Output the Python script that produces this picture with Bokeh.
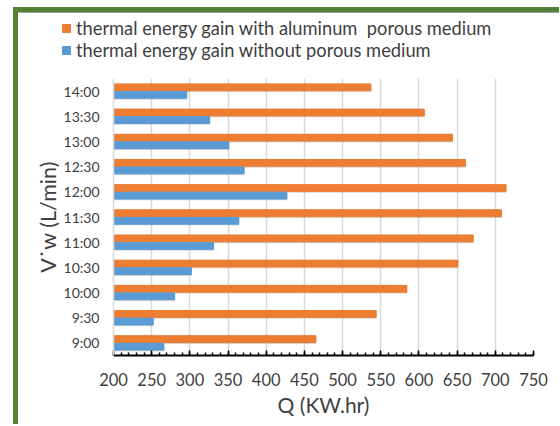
from bokeh.plotting import figure
from bokeh.models import (FactorRange, Range1d, FixedTicker, Legend, LegendItem,
                          ColumnDataSource, Title)
from bokeh.transform import dodge
from bokeh.embed import file_html
from bokeh.resources import INLINE

# ---- data ----
times = ["9:00", "9:30", "10:00", "10:30", "11:00", "11:30",
         "12:00", "12:30", "13:00", "13:30", "14:00"]
q_with_aluminum = [465, 544, 584, 651, 671, 708, 714, 661, 644, 607, 537]
q_without_porous = [266, 252, 280, 302, 331, 364, 427, 371, 351, 326, 296]
x_ticks = [200, 250, 300, 350, 400, 450, 500, 550, 600, 650, 700, 750]
x_minor = list(range(200, 751, 10))
label_with = "thermal energy gain with aluminum  porous medium"
label_without = "thermal energy gain without porous medium"
x_title = "Q (KW.hr)"
y_title = "V\u02d9w (L/min)"

ORANGE = "#ED7D31"
BLUE = "#5B9BD5"
GREEN = "#548235"
FONT = "Lato"
TXT = "#404040"

src = ColumnDataSource(dict(t=times, a=q_with_aluminum, b=q_without_porous))

# ---------- legend strip (separate root, so frames are not aligned) ----------
lf = figure(width=546, height=71, x_range=Range1d(0, 1), y_range=Range1d(0, 1),
            x_axis_type=None, y_axis_type=None,
            output_backend="svg", toolbar_location=None,
            min_border=0)
lf.styles = {"margin-left": "13px", "margin-top": "7px",
             "border-left": f"5px solid {GREEN}", "border-top": f"5px solid {GREEN}"}
lf.outline_line_color = None
lf.grid.visible = False
# proxy glyphs, placed outside the visible range, only used for the legend swatches
pr1 = lf.hbar(y=[5], left=[0], right=[1], height=0.5, color=ORANGE)
pr2 = lf.hbar(y=[5], left=[0], right=[1], height=0.5, color=BLUE)
legend = Legend(items=[LegendItem(label=label_with, renderers=[pr1]),
                       LegendItem(label=label_without, renderers=[pr2])],
                location=(43, 22), orientation="vertical",
                padding=0, margin=0, spacing=-1,
                glyph_width=10, glyph_height=10, label_standoff=5,
                label_height=21,
                label_text_font=FONT, label_text_font_size="18.3px",
                label_text_color=TXT,
                background_fill_alpha=0, border_line_color=None)
lf.add_layout(legend)

# ---------- main chart ----------
p = figure(width=546, height=346,
           y_range=FactorRange(*times), x_range=Range1d(200, 750),
           output_backend="svg", toolbar_location=None,
           min_border_left=95, min_border_right=31,
           min_border_top=0, min_border_bottom=69)
p.styles = {"margin-left": "13px", "border-left": f"5px solid {GREEN}"}
p.outline_line_color = None

# soft shadows
p.hbar(y=dodge("t", 0.13, range=p.y_range), left=202, right="a", height=0.30,
       source=src, color="black", alpha=0.12)
p.hbar(y=dodge("t", -0.17, range=p.y_range), left=202, right="b", height=0.30,
       source=src, color="black", alpha=0.12)

p.hbar(y=dodge("t", 0.15, range=p.y_range), left=200, right="a", height=0.27,
       source=src, color=ORANGE)
p.hbar(y=dodge("t", -0.15, range=p.y_range), left=200, right="b", height=0.27,
       source=src, color=BLUE)

p.xaxis.ticker = FixedTicker(ticks=x_ticks, minor_ticks=x_minor)
p.xaxis.axis_line_color = "black"
p.xaxis.axis_line_width = 2
p.xaxis.major_tick_in = 5
p.xaxis.major_tick_out = 0
p.xaxis.minor_tick_in = 3
p.xaxis.minor_tick_out = 0
p.xaxis.major_tick_line_color = "black"
p.xaxis.major_tick_line_width = 1.5
p.xaxis.minor_tick_line_color = "black"
p.xaxis.minor_tick_line_width = 1.5
p.xaxis.major_label_text_font = FONT
p.xaxis.major_label_text_font_size = "16.5px"
p.xaxis.major_label_text_color = TXT
p.xaxis.major_label_text_align = "right"
p.xaxis.major_label_standoff = 17

p.yaxis.axis_line_color = "#d9d9d9"
p.yaxis.axis_line_width = 1.5
p.yaxis.major_tick_line_color = None
p.yaxis.minor_tick_line_color = None
p.yaxis.major_tick_in = 0
p.yaxis.major_tick_out = 0
p.yaxis.minor_tick_in = 0
p.yaxis.minor_tick_out = 0
p.yaxis.major_label_text_font = FONT
p.yaxis.major_label_text_font_size = "14px"
p.yaxis.major_label_text_color = TXT
p.yaxis.major_label_standoff = 14

# axis titles as side titles, shifted slightly as in the original
ytitle = Title(text=y_title, align="center", offset=-17, standoff=0,
               text_font=FONT, text_font_size="21.5px", text_font_style="normal",
               text_color=TXT)
p.add_layout(ytitle, "left")
xtitle = Title(text=x_title, align="center", offset=-22, standoff=2,
               text_font=FONT, text_font_size="21px", text_font_style="normal",
               text_color=TXT)
p.add_layout(xtitle, "below")

p.ygrid.visible = False
p.xgrid.ticker = FixedTicker(ticks=x_ticks)
p.xgrid.grid_line_color = "#d9d9d9"
p.xgrid.grid_line_width = 1.5

open("out.html", "w").write(file_html([lf, p], INLINE))
